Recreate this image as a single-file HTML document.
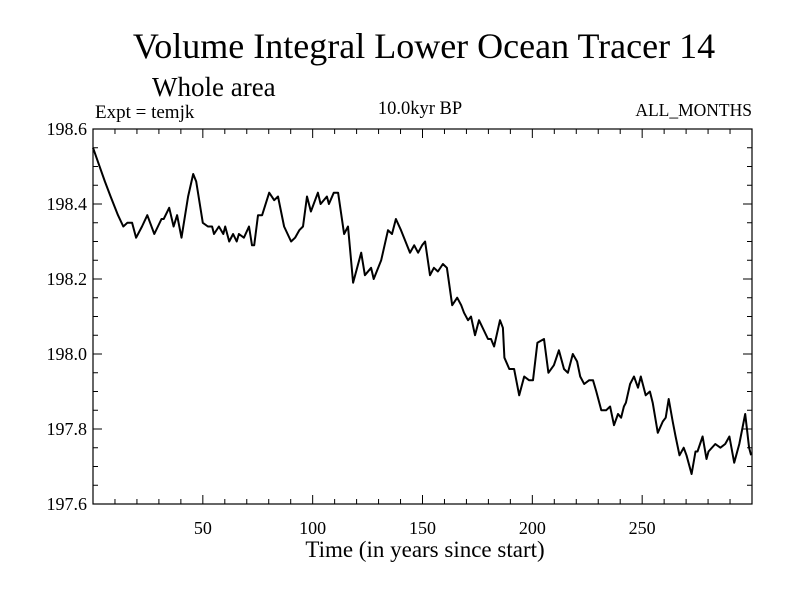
<!DOCTYPE html>
<html><head><meta charset="utf-8"><style>
body{margin:0;background:#fff}
svg{display:block;font-family:"Liberation Serif",serif}
</style></head><body>
<svg id="chart" width="800" height="600" viewBox="0 0 800 600">
<rect width="800" height="600" fill="#fff"/>
<text x="424" y="58" font-size="36" text-anchor="middle">Volume Integral Lower Ocean Tracer 14</text>
<text x="152" y="96" font-size="27">Whole area</text>
<text x="95" y="118" font-size="19">Expt = temjk</text>
<text x="420" y="114" font-size="18.5" text-anchor="middle">10.0kyr BP</text>
<text x="752" y="116" font-size="17.5" text-anchor="end">ALL_MONTHS</text>
<g id="axes"></g>
<path id="line" fill="none" stroke="#000" stroke-width="2" stroke-linejoin="round"/>
<rect x="93" y="129" width="659" height="375" fill="none" stroke="#000" stroke-width="1.2"/>
<text x="425" y="557" font-size="23" text-anchor="middle">Time (in years since start)</text>
</svg>
<script>
const years=[0,2.4,5.4,8,11.4,13.8,15.6,17.8,19.6,22.3,24.7,27.9,31.2,32.2,34.7,36.7,38.3,40.3,43.3,45.6,47,50,52.3,54.2,55.1,57.3,59.3,60.2,62,63.8,65.4,66.4,68.7,71,72.4,73.4,75.1,77,80.2,82.5,84.2,87,90.2,92,93.9,95.6,97.4,99.2,102.4,103.6,106.5,107.4,109.6,111.6,114.3,116.1,118.4,122.1,123.8,126.6,127.8,131.2,134.3,136.1,137.9,140.2,144.3,146.2,148,149.8,151.2,153.4,155.2,157,159.3,161.1,163.5,165.8,167.6,168.9,170.7,172.1,173.9,175.7,179.8,181.2,182.6,185.3,186.6,187.3,189.5,191.7,194,196.3,198.5,200.3,202.3,205.3,207.3,209.8,212.1,214.4,216.2,218.4,220.4,221.8,223.6,225.9,227.6,229.1,231.4,233.6,235.4,237.2,239,240.4,241.7,242.6,244.5,246.3,248.1,249.4,251.6,253.5,254.8,257.1,259.4,260.7,262.1,263.9,265.2,267,268.9,270.2,272.5,274.3,275.2,277.5,279.3,280.2,283.3,285.6,287.8,289.7,291.9,294.2,296.9,298.7,299.6];
const values=[198.55,198.51,198.46,198.42,198.37,198.34,198.35,198.35,198.31,198.34,198.37,198.32,198.36,198.36,198.39,198.34,198.37,198.31,198.42,198.48,198.46,198.35,198.34,198.34,198.32,198.34,198.32,198.34,198.30,198.32,198.30,198.32,198.31,198.34,198.29,198.29,198.37,198.37,198.43,198.41,198.42,198.34,198.30,198.31,198.33,198.34,198.42,198.38,198.43,198.40,198.42,198.40,198.43,198.43,198.32,198.34,198.19,198.27,198.21,198.23,198.20,198.25,198.33,198.32,198.36,198.33,198.27,198.29,198.27,198.29,198.30,198.21,198.23,198.22,198.24,198.23,198.13,198.15,198.13,198.11,198.09,198.10,198.05,198.09,198.04,198.04,198.02,198.09,198.07,197.99,197.96,197.96,197.89,197.94,197.93,197.93,198.03,198.04,197.95,197.97,198.01,197.96,197.95,198.00,197.98,197.94,197.92,197.93,197.93,197.90,197.85,197.85,197.86,197.81,197.84,197.83,197.86,197.87,197.92,197.94,197.91,197.94,197.89,197.90,197.87,197.79,197.82,197.83,197.88,197.82,197.78,197.73,197.75,197.73,197.68,197.74,197.74,197.78,197.72,197.74,197.76,197.75,197.76,197.78,197.71,197.76,197.84,197.75,197.73];
const xTickLabels=[50,100,150,200,250];
const yTickLabels=["198.6","198.4","198.2","198.0","197.8","197.6"];
const X0=93,X1=752,Y0=129,Y1=504,XMIN=0,XMAX=300,YMIN=197.6,YMAX=198.6;
function sx(v){return X0+(v-XMIN)/(XMAX-XMIN)*(X1-X0);}
function sy(v){return Y1-(v-YMIN)/(YMAX-YMIN)*(Y1-Y0);}
const NS="http://www.w3.org/2000/svg";
const g=document.getElementById('axes');
function ln(x1,y1,x2,y2,name){const l=document.createElementNS(NS,'line');
l.setAttribute('x1',x1);l.setAttribute('y1',y1);l.setAttribute('x2',x2);l.setAttribute('y2',y2);
l.setAttribute('stroke','#000');l.setAttribute('stroke-width','1');


g.appendChild(l);}
function tx(x,y,s,anchor,name){const t=document.createElementNS(NS,'text');
t.setAttribute('x',x);t.setAttribute('y',y);t.setAttribute('font-size','18');t.setAttribute('text-anchor',anchor);t.textContent=s;


g.appendChild(t);}
for(let v=10;v<XMAX;v+=10){const x=sx(v);const major=v%50===0;const L=major?9:5;
ln(x,Y1,x,Y1-L,'x-tick');ln(x,Y0,x,Y0+L,'x-tick-top');}
xTickLabels.forEach(v=>tx(sx(v),Y1+30,String(v),'middle','x-tick-label'));
for(let i=1;i<20;i++){const v=YMIN+i*0.05;const y=sy(v);const major=i%4===0;const L=major?9:5;
ln(X0,y,X0+L,y,'y-tick');ln(X1,y,X1-L,y,'y-tick-right');}
yTickLabels.forEach(s=>tx(87,sy(parseFloat(s))+6,s,'end','y-tick-label'));
document.getElementById('line').setAttribute('d',years.map((yv,i)=>(i?'L':'M')+sx(yv).toFixed(1)+','+sy(values[i]).toFixed(1)).join(''));
</script>
</body></html>
